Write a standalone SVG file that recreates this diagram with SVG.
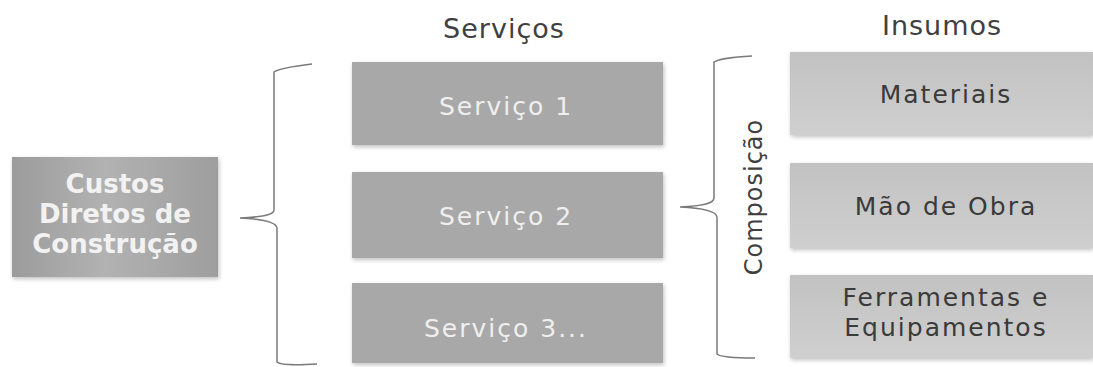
<svg xmlns="http://www.w3.org/2000/svg" width="1093" height="367" viewBox="0 0 1093 367">
<defs>
<linearGradient id="gCustos" x1="0" y1="0" x2="1" y2="0">
<stop offset="0" stop-color="#9c9c9c"/>
<stop offset="0.45" stop-color="#b2b2b2"/>
<stop offset="1" stop-color="#9e9e9e"/>
</linearGradient>
<linearGradient id="gIns" x1="0" y1="0" x2="0" y2="1">
<stop offset="0" stop-color="#c2c2c2"/>
<stop offset="1" stop-color="#cfcfcf"/>
</linearGradient>
<filter id="sh" x="-5%" y="-10%" width="110%" height="130%">
<feGaussianBlur in="SourceAlpha" stdDeviation="2"/>
<feOffset dx="1" dy="2"/>
<feComponentTransfer><feFuncA type="linear" slope="0.25"/></feComponentTransfer>
<feMerge><feMergeNode/><feMergeNode in="SourceGraphic"/></feMerge>
</filter>
</defs>
<style>
.svc{fill:#a8a8a8;filter:url(#sh)}
.ins{fill:url(#gIns);filter:url(#sh)}
.svct{font-family:"DejaVu Sans",Verdana,sans-serif;font-size:25px;letter-spacing:2px;fill:#efefef;text-anchor:middle}
.inst{font-family:"DejaVu Sans",Verdana,sans-serif;font-size:25px;letter-spacing:2px;fill:#3a3a3a;text-anchor:middle}
.hdr{font-family:"DejaVu Sans",Verdana,sans-serif;font-size:27px;letter-spacing:1px;fill:#404040;text-anchor:middle}
.ct{font-family:"DejaVu Sans",Verdana,sans-serif;font-size:26px;font-weight:bold;fill:#f2f2f2;text-anchor:middle}
.br{fill:none;stroke:#7a7a7a;stroke-width:1.5}
</style>
<rect width="1093" height="367" fill="#ffffff"/>
<text class="hdr" x="504" y="38">Serviços</text>
<text class="hdr" x="942" y="35">Insumos</text>
<g id="custos">
<rect x="12" y="157" width="206" height="120" fill="url(#gCustos)" filter="url(#sh)"/>
<text class="ct" x="115" y="193">Custos</text>
<text class="ct" x="115" y="223">Diretos de</text>
<text class="ct" x="115" y="253">Construção</text>
</g>
<g id="servico1">
<rect class="svc" x="352" y="62" width="311" height="83"/>
<text class="svct" x="506" y="115">Serviço 1</text>
</g>
<g id="servico2">
<rect class="svc" x="352" y="172" width="311" height="86"/>
<text class="svct" x="506" y="225">Serviço 2</text>
</g>
<g id="servico3">
<rect class="svc" x="352" y="283" width="311" height="80"/>
<text class="svct" x="506" y="337">Serviço 3...</text>
</g>
<g id="materiais">
<rect class="ins" x="790" y="52" width="303" height="83"/>
<text class="inst" x="946" y="103">Materiais</text>
</g>
<g id="maodeobra">
<rect class="ins" x="790" y="163" width="303" height="85"/>
<text class="inst" x="946" y="215">Mão de Obra</text>
</g>
<g id="ferramentas">
<rect class="ins" x="790" y="275" width="303" height="83"/>
<text class="inst" x="946" y="306">Ferramentas e</text>
<text class="inst" x="946" y="336">Equipamentos</text>
</g>
<g id="connectors">
<path class="br" d="M312,64 C295,66 280,68 274,72 L274,210 C274,215 262,217 240,218 C262,219 276,222 277,228 L277,362 C280,365 300,365 317,364"/>
<path class="br" d="M752,56 C735,57 720,58 714,62 L714,198 C714,204 702,206 680,207 C702,208 716,211 717,217 L717,354 C720,357 738,358 755,358"/>
<text id="composicao" x="0" y="0" transform="translate(762,197) rotate(-90)" font-family="DejaVu Sans, Verdana, sans-serif" font-size="24" letter-spacing="1" fill="#404040" text-anchor="middle">Composição</text>
</g>
</svg>
